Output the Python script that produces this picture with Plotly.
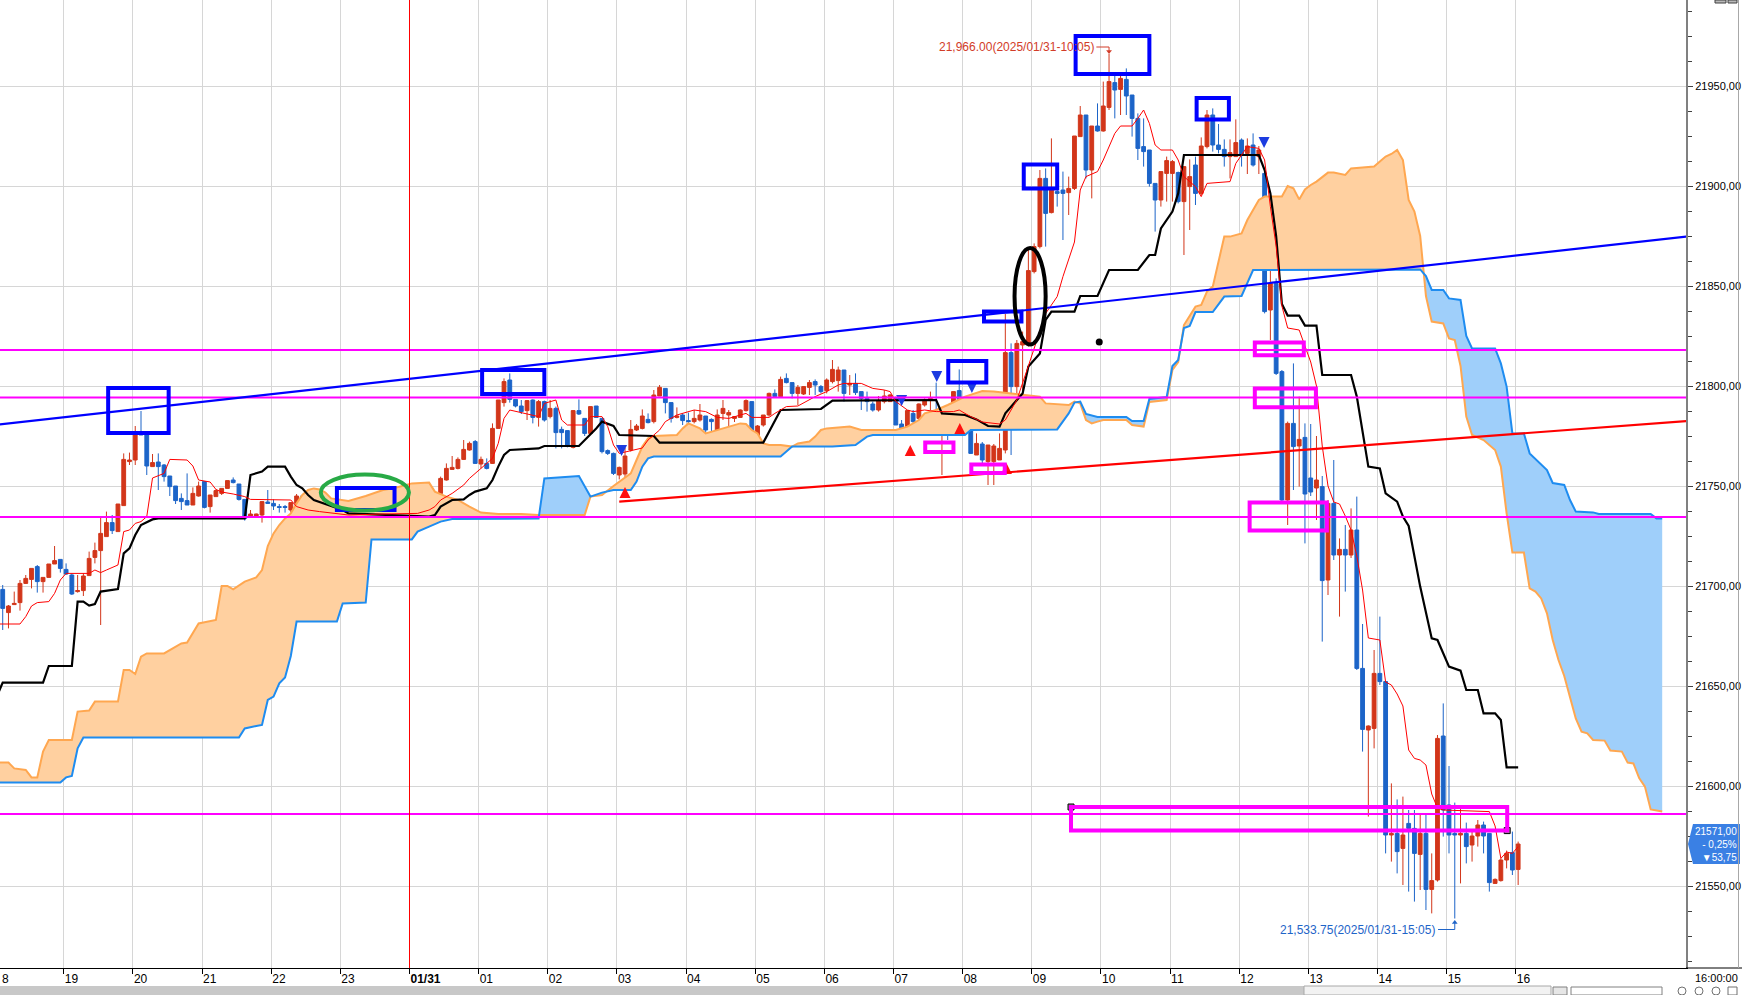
import numpy as np
import pandas as pd
import plotly.graph_objects as go

# 5-minute bars, 2025-01-30 18:05 .. 2025-01-31 16:00
BAR_START = pd.Timestamp("2025-01-30 18:05")

opens = [
    21698.3, 21686.7, 21690.7, 21691.7, 21701.3, 21703.3, 21709.7, 21702.2, 21704.3, 21711,
    21713.3, 21708.3, 21705.5, 21697.2, 21697.7, 21705.2, 21714.3, 21717.7, 21724.7, 21731.7,
    21727.2, 21740.2, 21762.2, 21763, 21776.3, 21775.5, 21759.7, 21762, 21760.5, 21755,
    21750, 21743.8, 21742.7, 21740.5, 21745, 21752.2, 21739.7, 21744.7, 21746.3, 21748.8,
    21753, 21751, 21743.3, 21735, 21735, 21735.5, 21742, 21741.3, 21739.7, 21739.7,
    21738, 21741.3, 21745, 21741.3, 21736.3, 21731.8, 21732.2, 21728.3, 21728.3, 21723,
    21730, 21739.3, 21739.7, 21740, 21739.7, 21741.3, 21739.7, 21735.5, 21733, 21737.2,
    21738, 21736.7, 21735, 21740, 21745, 21743.3, 21746.3, 21753, 21758.3, 21758.8,
    21763.3, 21768, 21772.2, 21761, 21761.3, 21761.3, 21778.8, 21791.7, 21803, 21793.3,
    21790, 21787.7, 21793, 21784.3, 21792.2, 21784.7, 21788.8, 21778.3, 21777.7, 21769.3,
    21787.7, 21783.8, 21776.3, 21790, 21783.8, 21767.7, 21766.3, 21755.5, 21756, 21768,
    21778, 21778.8, 21783.3, 21782.2, 21795, 21798.8, 21791.7, 21784.3, 21785.5, 21782.7,
    21782.2, 21783, 21785, 21783.3, 21778, 21786.3, 21785.5, 21783.8, 21784.3, 21787.7,
    21792.2, 21773, 21780.5, 21785.5, 21796.3, 21794.7, 21803.8, 21801.7, 21796.3, 21796,
    21799.3, 21802.2, 21799.7, 21797.7, 21802.2, 21802.7, 21808, 21800.5, 21801.3, 21797.2,
    21793.8, 21791, 21788, 21792.2, 21792.2, 21793.8, 21781, 21778.3, 21786.3, 21783.8,
    21790.5, 21793, 21787.2, 21777.2, 21785, 21777.2, 21797.7, 21788.8, 21790.5, 21765.5,
    21771, 21762.2, 21762.2, 21763, 21768, 21816.7, 21799.7, 21820.5, 21821.3, 21857.2,
    21869.7, 21903.8, 21886.7, 21897.2, 21898, 21896.7, 21898.8, 21924.7, 21935.5, 21908,
    21930, 21927.5, 21939.3, 21951.7, 21948.3, 21953.3, 21945.5, 21933.8, 21919.7, 21918,
    21901.3, 21893, 21906.3, 21906.3, 21906.7, 21892.2, 21899.7, 21910.5, 21896.3, 21919.7,
    21935.5, 21920.5, 21918.3, 21914.7, 21914.7, 21923, 21916.3, 21920.5, 21914.7, 21906.3,
    21838, 21851.3, 21807.2, 21743, 21781.3, 21770, 21774.3, 21754, 21749, 21749.7,
    21703, 21741.3, 21715.5, 21718.3, 21715.5, 21728, 21658.8, 21628, 21628.8, 21656.3,
    21652.2, 21575.5, 21576.3, 21568.8, 21581.3, 21578.8, 21565.8, 21576.3, 21548.3, 21553,
    21625, 21590.5, 21576.3, 21575.5, 21576.3, 21570.5, 21575, 21580.5, 21576.3, 21551.3,
    21552.7, 21563, 21566.7, 21558.3,
]
highs = [
    21700.5, 21690.5, 21697.2, 21703, 21705.5, 21708.8, 21710.5, 21704.3, 21711, 21720,
    21713.3, 21711.3, 21706.3, 21705.5, 21706.3, 21717.2, 21721.7, 21734.7, 21737.2, 21735.5,
    21741, 21766.3, 21766.7, 21780, 21787.5, 21775.5, 21766, 21766.3, 21761, 21755,
    21750, 21746.3, 21756.3, 21749.3, 21752.2, 21752.5, 21745.5, 21748.3, 21748.8, 21752.7,
    21754.3, 21751, 21743.3, 21738, 21736.2, 21742.2, 21748, 21743.3, 21741, 21740.5,
    21741.7, 21746, 21745, 21742.2, 21739.7, 21734.7, 21732.2, 21731.3, 21732.2, 21733.8,
    21737.2, 21743, 21742.2, 21741.3, 21744.7, 21741.7, 21739.7, 21738, 21739.7, 21737.7,
    21738.8, 21737.2, 21740, 21745.5, 21747.2, 21747.2, 21754.7, 21761.3, 21765, 21764.3,
    21773, 21772.2, 21773, 21764.7, 21763.8, 21781.3, 21793, 21803.8, 21806.3, 21793.3,
    21793, 21793, 21793.3, 21793, 21792.7, 21793, 21789.7, 21779.7, 21777.7, 21788,
    21793.3, 21783.8, 21789.7, 21790, 21783.8, 21768.3, 21766.7, 21759.7, 21769, 21783,
    21781, 21788.3, 21786.3, 21798, 21800.5, 21798.8, 21791.7, 21789.3, 21786.3, 21786.7,
    21788, 21791, 21785, 21783.8, 21788.3, 21793, 21788, 21785, 21788.3, 21793.3,
    21792.2, 21780.5, 21785.5, 21796.7, 21798.3, 21804.7, 21806.3, 21801.7, 21800.5, 21800,
    21803, 21803.3, 21800.5, 21803.8, 21813, 21809.7, 21808, 21805.5, 21806.3, 21797.2,
    21797.2, 21792.2, 21795, 21798, 21796, 21794.7, 21783, 21788, 21788, 21791.3,
    21793.8, 21797.2, 21801.7, 21785.5, 21786.3, 21797.2, 21808.3, 21792.2, 21790.5, 21776.3,
    21772, 21770.5, 21771, 21776.3, 21836, 21821.3, 21823, 21827.2, 21868, 21871.3,
    21908, 21908.8, 21923.8, 21905.5, 21907.2, 21904.7, 21925, 21940, 21935.5, 21930,
    21941.3, 21952.2, 21966, 21956.3, 21956.3, 21958.8, 21945.5, 21936.3, 21933.8, 21918,
    21901.3, 21907.2, 21914.7, 21913, 21907.2, 21909.7, 21913.3, 21914.7, 21924.3, 21938,
    21938.8, 21931, 21923.3, 21923.3, 21933.3, 21923.8, 21923.8, 21926.3, 21920, 21908,
    21884, 21853.8, 21808, 21782.2, 21811.3, 21794.7, 21781.3, 21781, 21775, 21755,
    21743, 21763, 21723.8, 21730.5, 21738.8, 21744.7, 21681, 21630.3, 21668, 21684.7,
    21652.2, 21601.3, 21593.3, 21594.7, 21588, 21588, 21585.5, 21585.5, 21566.3, 21625.5,
    21641.3, 21610, 21591.7, 21589.7, 21581.7, 21578, 21583, 21582.2, 21576.3, 21553.8,
    21563.8, 21567.7, 21577.2, 21572.2,
]
lows = [
    21678, 21678.8, 21690.5, 21687.7, 21701, 21698.8, 21696.7, 21696.7, 21704.3, 21711,
    21706.7, 21705.5, 21695.5, 21696.7, 21695, 21705.2, 21711.3, 21680.5, 21724.7, 21726,
    21727.2, 21740.2, 21760.5, 21760.5, 21775.5, 21755.5, 21759.7, 21748, 21752.2, 21745,
    21741, 21738, 21740.5, 21740.5, 21744.7, 21738.8, 21736.7, 21744.7, 21745.5, 21748.8,
    21751.3, 21742.7, 21732.7, 21734.7, 21734.7, 21731.7, 21741.3, 21738, 21736.7, 21736.7,
    21736.7, 21736.3, 21740.5, 21734.7, 21729.7, 21728.8, 21725.5, 21726.3, 21722.2, 21722.2,
    21728, 21738.8, 21738.8, 21738.8, 21739.3, 21738.8, 21735.5, 21729.7, 21732.2, 21734.7,
    21734.7, 21735.5, 21731.7, 21738.8, 21743, 21743, 21746.3, 21752.7, 21758.3, 21758.3,
    21763, 21767.7, 21761, 21758.8, 21758.3, 21761, 21778.8, 21789.7, 21791.7, 21789.3,
    21786, 21783, 21781.3, 21779.7, 21782.2, 21783.8, 21768.8, 21768.8, 21769.3, 21768.8,
    21785.5, 21775, 21776, 21784.3, 21766.3, 21765.5, 21755.5, 21753.3, 21754, 21767.2,
    21777.5, 21778.3, 21781.3, 21781.3, 21795, 21786.3, 21781.7, 21783.8, 21780.5, 21781.3,
    21781.3, 21782.2, 21773.8, 21776.3, 21778, 21783, 21778, 21782, 21784, 21787.2,
    21773, 21772.2, 21779.7, 21784.7, 21794.7, 21794.7, 21801.3, 21793.8, 21790.5, 21795.5,
    21795.5, 21795.5, 21796.3, 21796.3, 21801.3, 21797.2, 21792.2, 21795.5, 21795.5, 21788,
    21787.2, 21787.2, 21787.2, 21791.3, 21792, 21780.5, 21776.3, 21776.3, 21781.3, 21779.7,
    21789.7, 21788, 21777.2, 21755.5, 21773, 21776.3, 21790, 21784.7, 21766, 21765.5,
    21761, 21750.5, 21750.5, 21763, 21766.3, 21765.5, 21788.8, 21797.2, 21819.7, 21856.3,
    21868.8, 21869.7, 21886.3, 21889.7, 21873, 21885.5, 21898, 21924.7, 21903.8, 21893.8,
    21927.2, 21927.2, 21938, 21933.8, 21935.5, 21935.5, 21924.7, 21913, 21909.7, 21899.7,
    21877.2, 21889.7, 21892.2, 21892.2, 21891.3, 21865.5, 21878, 21890.5, 21895.5, 21918.8,
    21917.2, 21916.3, 21909.7, 21903.8, 21914.7, 21909.7, 21906, 21909.7, 21906, 21836.3,
    21823, 21805.5, 21742, 21730.5, 21748, 21749.7, 21721.3, 21745, 21733, 21672.2,
    21695.5, 21713, 21684.7, 21697.2, 21714, 21658, 21617.2, 21584.7, 21618.8, 21650.5,
    21566.3, 21562.2, 21556.3, 21550.5, 21547.2, 21542.2, 21548, 21538, 21536.3, 21552.2,
    21574.7, 21566.3, 21533.75, 21551.3, 21561.3, 21562.2, 21569.7, 21566.3, 21547.2, 21551.3,
    21552.2, 21558.8, 21555.5, 21550.5,
]
closes = [
    21688.8, 21690, 21691.3, 21701.3, 21703.8, 21708.8, 21702.2, 21704.3, 21711, 21712.7,
    21708.8, 21706, 21696, 21697.7, 21705, 21713.8, 21717.7, 21726.3, 21731.7, 21727.7,
    21741, 21763.3, 21763, 21776.3, 21775.5, 21760, 21761.7, 21759.7, 21754.7, 21749.7,
    21742.7, 21742.2, 21740.5, 21746.3, 21750, 21739.3, 21745.5, 21747.7, 21748.8, 21752.7,
    21751.7, 21743.3, 21733.8, 21736, 21736, 21742.2, 21741.3, 21740, 21739.3, 21739.3,
    21741.7, 21745, 21740.5, 21735, 21732.2, 21732.7, 21727.2, 21728.8, 21723.8, 21733.8,
    21734.7, 21740, 21740.3, 21739.3, 21741, 21739.3, 21736.3, 21732.2, 21736.3, 21736,
    21735, 21736, 21740, 21744.3, 21743.3, 21746.7, 21753.8, 21758.8, 21759.3, 21763.3,
    21768.3, 21771.3, 21761.3, 21763.3, 21758.8, 21778.8, 21793, 21802.2, 21793.3, 21790,
    21787.2, 21792.7, 21784.3, 21792.2, 21783, 21788.8, 21776.7, 21776.7, 21770, 21787.7,
    21786, 21776.3, 21789.7, 21784.3, 21767.2, 21766.3, 21756.3, 21759.3, 21765, 21778.3,
    21780, 21785, 21781.7, 21795.5, 21799.3, 21791.7, 21783.8, 21785, 21782.7, 21782.2,
    21783.8, 21785.5, 21778, 21782.2, 21785.5, 21788.8, 21786.7, 21784.7, 21788, 21792.7,
    21773, 21780, 21785.5, 21796.3, 21794.7, 21803.3, 21801.7, 21796.3, 21799.3, 21799.7,
    21801.7, 21800.5, 21797.2, 21803, 21808.3, 21808, 21796.3, 21801.3, 21796.7, 21793.8,
    21792.2, 21788, 21792.7, 21795, 21795.5, 21780.5, 21778, 21787.7, 21782.2, 21791,
    21793, 21793.8, 21778, 21785.5, 21778, 21797.2, 21790.5, 21789.7, 21766.3, 21771.3,
    21763, 21770.5, 21770, 21768.8, 21816.7, 21799.7, 21821.3, 21822.2, 21857.7, 21869.7,
    21903.8, 21886.3, 21898, 21896.3, 21896.3, 21898.8, 21925, 21935.5, 21908, 21930,
    21927.5, 21940, 21952.2, 21948, 21953.8, 21945, 21933.8, 21918.8, 21917.2, 21901.3,
    21893, 21907.2, 21912.7, 21912.2, 21892.2, 21909.7, 21904.7, 21896.3, 21920, 21935.5,
    21920.5, 21918.3, 21914.7, 21916.7, 21921.7, 21915.5, 21920, 21910.5, 21918, 21837.2,
    21851.3, 21806.3, 21743, 21781.3, 21769.7, 21773.3, 21746, 21747, 21753, 21702.7,
    21741.3, 21715.5, 21718.3, 21715.5, 21728, 21658.8, 21628.3, 21630, 21656.3, 21652.2,
    21575.5, 21576.3, 21567.2, 21575.5, 21578.8, 21566.3, 21576.3, 21548.3, 21552.7, 21623.8,
    21588, 21575.5, 21575.5, 21576.3, 21569.7, 21575, 21580.5, 21575, 21551.7, 21553.3,
    21563, 21566.3, 21558, 21571,
]

# Ichimoku lines as (bar index, price) vertices
tenkan_pts = [
    (-1, 21681), (3, 21681), (4, 21684.7), (5, 21690), (6, 21691.7), (8, 21692.2), (9, 21696.3),
    (10, 21703), (11, 21706.3), (15, 21706.3), (16, 21708), (17, 21706.7), (18, 21708), (20, 21710.5),
    (21, 21727.2), (22, 21728), (23, 21731.3), (24, 21732.2), (25, 21734.7), (26, 21754), (28, 21756.3),
    (29, 21763.3), (32, 21763), (33, 21760), (34, 21753), (36, 21752), (37, 21748.3), (38, 21747),
    (40, 21746), (42, 21744.7), (43, 21743.3), (50, 21743), (51, 21739.7), (53, 21738), (55, 21737.2),
    (58, 21736.3), (60, 21735.5), (66, 21736), (72, 21736.3), (74, 21738), (75, 21739.7), (76, 21743),
    (78, 21746.3), (80, 21750.5), (81, 21753.8), (83, 21758.8), (85, 21763.8), (86, 21771.3),
    (87, 21783.8), (88, 21788), (93, 21784.7), (94, 21791.3), (96, 21793), (97, 21783), (98, 21780.5),
    (101, 21780.5), (102, 21784.7), (104, 21784.7), (105, 21779.7), (106, 21770.5), (107, 21766.3),
    (111, 21769), (112, 21773), (114, 21778), (115, 21782.2), (117, 21785.5), (119, 21787.2),
    (120, 21788), (122, 21787.2), (124, 21784.3), (126, 21783.8), (128, 21785.5), (129, 21786.3),
    (130, 21784.3), (133, 21784.3), (134, 21786.3), (136, 21789.7), (138, 21790), (140, 21793),
    (141, 21794.7), (143, 21797.2), (145, 21800.5), (146, 21801.3), (149, 21801.3), (151, 21798.8),
    (153, 21798), (154, 21797.2), (155, 21792.2), (157, 21788), (158, 21787.2), (160, 21788),
    (162, 21787.2), (165, 21787.2), (166, 21788), (167, 21786.3), (168, 21784.7), (170, 21782),
    (173, 21781), (174, 21783), (176, 21793), (178, 21810), (180, 21828), (181, 21836.3),
    (183, 21844.7), (184, 21854.7), (186, 21872), (187, 21898), (188, 21904.7), (190, 21907.2),
    (191, 21913), (193, 21926.3), (194, 21930), (196, 21930), (197, 21933.8), (198, 21938),
    (199, 21931.3), (200, 21920.5), (201, 21918), (203, 21918), (204, 21913), (205, 21904.7),
    (207, 21899.7), (208, 21894.7), (209, 21901.3), (213, 21902.2), (214, 21911.3), (216, 21919.7),
    (218, 21918.8), (219, 21913), (220, 21889.7), (221, 21870), (222, 21840), (223, 21829),
    (225, 21828), (226, 21820), (227, 21812), (228, 21800), (229, 21770), (230, 21750), (231, 21742),
    (232, 21741), (233, 21735), (234, 21728), (235, 21715), (236, 21698), (237, 21674), (239, 21673),
    (240, 21652), (241, 21650.5), (242, 21646), (243, 21640), (244, 21618), (245, 21613.8),
    (246, 21613), (247, 21610.5), (248, 21596), (249, 21589), (250, 21588), (258, 21587.2),
    (259, 21580), (260, 21563.8), (261, 21567), (262, 21566.3), (263, 21569.7),
]
kijun_pts = [
    (-1, 21645), (0, 21651.7), (7, 21651.7), (8, 21660), (12, 21660), (13, 21692.2), (14, 21692.2),
    (15, 21690.2), (16, 21691), (17, 21697.2), (20, 21698.5), (21, 21716.3), (22, 21718.8),
    (23, 21725.5), (24, 21730.5), (26, 21733.3), (27, 21733.8), (42, 21733.8), (43, 21755.5),
    (44, 21756.3), (45, 21757.2), (46, 21759.7), (49, 21759.7), (50, 21754.7), (51, 21750.5),
    (52, 21748.8), (53, 21745.5), (54, 21743), (56, 21741), (59, 21738), (60, 21736.3), (67, 21735.5),
    (71, 21734.7), (74, 21734.7), (75, 21735.5), (76, 21739.7), (78, 21743), (80, 21743.3),
    (81, 21745.5), (82, 21747.2), (84, 21748.8), (85, 21753), (86, 21759.7), (87, 21765.5),
    (88, 21768), (93, 21768.8), (94, 21770), (100, 21770), (103, 21778.8), (104, 21782.2),
    (106, 21780), (107, 21775.5), (113, 21775), (114, 21771.7), (132, 21771.7), (135, 21788),
    (142, 21788.5), (144, 21792.7), (162, 21793), (163, 21786.3), (167, 21785.5), (169, 21783.3),
    (171, 21780), (173, 21779.7), (174, 21786.3), (177, 21796.3), (178, 21809.7), (180, 21816.3),
    (181, 21833), (182, 21837.2), (186, 21837.2), (187, 21845), (190, 21845), (192, 21858),
    (197, 21858), (199, 21865.5), (200, 21865.5), (201, 21878.8), (203, 21887.2), (204, 21896.3),
    (205, 21915.5), (218, 21915.5), (219, 21908), (220, 21896.3), (221, 21875), (222, 21841),
    (223, 21835.2), (225, 21835.2), (226, 21830.2), (228, 21830.2), (229, 21805.5), (234, 21805.5),
    (235, 21794.7), (237, 21759.7), (239, 21758.8), (240, 21746.3), (242, 21742.2), (243, 21734.7),
    (244, 21730), (246, 21699.7), (248, 21673.8), (249, 21673), (251, 21659.7), (253, 21657.7),
    (254, 21648), (256, 21648), (257, 21636.3), (259, 21636.3), (260, 21633), (261, 21609.3),
    (263, 21609.3),
]
span_a_pts = [
    (-1, 21611.7), (1, 21611.7), (2, 21608.8), (4, 21608), (5, 21604.3), (6, 21604.3), (7, 21617.2),
    (8, 21623), (12, 21623), (13, 21637.2), (15, 21637.7), (16, 21642.2), (20, 21642.2), (21, 21658),
    (22, 21658), (23, 21656), (24, 21664.7), (25, 21666.3), (28, 21666.3), (31, 21671.3),
    (32, 21671.7), (34, 21681.3), (37, 21683), (38, 21700), (39, 21700), (40, 21698.3), (42, 21702.2),
    (44, 21704.3), (45, 21708), (46, 21720), (47, 21726.3), (48, 21730.5), (49, 21733.8),
    (50, 21736.3), (51, 21741.3), (52, 21745.5), (53, 21748), (54, 21748.8), (55, 21748.3),
    (56, 21746.7), (57, 21743.8), (60, 21742.5), (63, 21745), (66, 21748), (68, 21749), (71, 21751.3),
    (74, 21751.7), (75, 21747.2), (77, 21744.7), (79, 21743), (81, 21739.7), (83, 21736.7),
    (86, 21736), (90, 21736), (93, 21735.5), (101, 21735.5), (102, 21744.7), (104, 21745.5),
    (106, 21750), (107, 21752.2), (109, 21756.3), (110, 21763), (111, 21769.7), (112, 21773.8),
    (113, 21775), (117, 21775.5), (118, 21778.8), (119, 21781.3), (121, 21778.8), (122, 21776.3),
    (124, 21778), (126, 21779.7), (128, 21781.3), (129, 21781), (130, 21778), (131, 21776.3),
    (132, 21771.3), (133, 21770.5), (135, 21770.5), (137, 21769.7), (138, 21771.3), (140, 21772.2),
    (141, 21774.7), (142, 21778), (143, 21778.8), (147, 21779.7), (148, 21778.8), (149, 21778),
    (155, 21778), (157, 21779.7), (159, 21783), (160, 21786.3), (162, 21788), (164, 21790.5),
    (167, 21794.7), (170, 21797.5), (172, 21797.2), (177, 21795.5), (180, 21794.7), (181, 21791.3),
    (185, 21790.5), (186, 21792.2), (187, 21791.3), (188, 21783), (189, 21781.3), (190, 21782.2),
    (191, 21783), (195, 21783), (196, 21780.5), (198, 21779.7), (199, 21792), (202, 21793),
    (203, 21808), (204, 21812), (205, 21830.5), (207, 21839.7), (208, 21840.5), (209, 21847.2),
    (210, 21849.7), (212, 21874.7), (213, 21874.7), (215, 21876.3), (216, 21883), (218, 21893),
    (219, 21894.7), (222, 21894.7), (223, 21900), (224, 21898.8), (225, 21893.3), (226, 21898.3),
    (227, 21900.5), (228, 21902.2), (230, 21906.7), (231, 21906.7), (233, 21905.5), (234, 21908.8),
    (238, 21909.7), (239, 21912.2), (240, 21914.7), (241, 21916), (242, 21918), (243, 21913),
    (244, 21893), (245, 21887.2), (246, 21875), (247, 21845), (248, 21832.2), (250, 21831.3),
    (251, 21823.8), (252, 21823), (253, 21810), (254, 21784.7), (255, 21775.5), (257, 21773),
    (259, 21768), (260, 21759.7), (261, 21736.3), (262, 21716.7), (264, 21716.7), (265, 21698.8),
    (266, 21697.2), (267, 21693.8), (268, 21686.3), (269, 21673), (270, 21663), (271, 21655),
    (272, 21645), (273, 21633.8), (274, 21627.2), (275, 21626.3), (276, 21623), (278, 21622.7),
    (279, 21617.7), (281, 21617.2), (282, 21611.7), (283, 21611.3), (284, 21604), (285, 21599.7),
    (286, 21588.3), (288, 21587.2),
]
span_b_pts = [
    (-1, 21601.7), (10, 21601.7), (11, 21604.3), (12, 21605), (13, 21618.8), (14, 21624.2),
    (41, 21624.2), (42, 21628.8), (44, 21630), (45, 21630.5), (46, 21643), (47, 21644.7),
    (48, 21651.3), (49, 21654.3), (50, 21665), (51, 21682.2), (58, 21682.2), (59, 21691.3),
    (63, 21691.7), (64, 21723.3), (71, 21723.3), (72, 21727.2), (74, 21729.7), (76, 21732.2),
    (78, 21733.5), (93, 21733.7), (94, 21753.8), (100, 21755), (102, 21744.7), (104, 21746.7),
    (106, 21748), (109, 21748), (110, 21752.2), (111, 21759.7), (112, 21763.8), (113, 21764.7),
    (135, 21764.7), (136, 21767.2), (137, 21769.7), (144, 21769.7), (148, 21770.5), (150, 21774.7),
    (151, 21775.5), (167, 21775.5), (168, 21778), (183, 21778.3), (185, 21786.3), (186, 21791.7),
    (187, 21792.2), (188, 21786), (190, 21784.5), (195, 21784.5), (196, 21782.5), (198, 21782.5),
    (199, 21793.5), (202, 21794.5), (203, 21810), (204, 21813), (205, 21829), (206, 21830),
    (207, 21837), (210, 21837), (212, 21844.7), (215, 21845), (216, 21851.3), (217, 21858),
    (246, 21858.3), (247, 21855), (248, 21848), (250, 21848), (251, 21843.8), (253, 21843),
    (254, 21825), (255, 21818.8), (259, 21818.8), (260, 21811.3), (261, 21799.7), (262, 21776.3),
    (264, 21776.3), (265, 21766.3), (268, 21758), (269, 21751.5), (271, 21750.5), (272, 21743),
    (273, 21737.2), (276, 21736.8), (277, 21736), (286, 21736), (287, 21733.8), (288, 21733.8),
]

# drawings on the chart (bar index / price)
h_levels = [21818, 21794.25, 21734.5, 21586]
blue_trend = [(-0.5, 21780.8), (292.2, 21874.7)]
red_trend = [(107.0, 21742.2), (292.2, 21782.5)]
blue_boxes = [  # (bar from, bar to, price low, price high)
    (18.3, 28.8, 21776.5, 21799), (58.0, 68.0, 21738, 21749), (83.2, 94.0, 21796, 21808),
    (164.1, 170.7, 21801.8, 21812.5), (170.3, 176.8, 21832.3, 21837.3),
    (177.2, 183.0, 21898.7, 21910.7), (186.2, 199.0, 21956, 21975), (207.2, 212.8, 21933.2, 21944),
]
magenta_boxes = [
    (160.1, 165.0, 21767, 21771.7), (168.1, 173.9, 21756.5, 21760.7), (217.3, 225.8, 21815.4, 21821.7),
    (217.3, 227.9, 21789.4, 21798.7), (216.4, 229.8, 21727.7, 21741.7), (185.4, 261.1, 21577.7, 21589.5),
]
green_oval = (55.2, 70.5, 21737.7, 21755.7)
black_oval = (175.6, 181.0, 21820.7, 21869)
signal_down = [(107.4, 21765), (156, 21790), (162.1, 21802), (168.2, 21796.5), (218.9, 21919)]
signal_up = [(108, 21749.5), (157.5, 21770.5), (166.1, 21781.5), (174.2, 21761.5)]
black_dot = (190.3, 21822)
box_handles = [(185.4, 21589.5), (261.1, 21577.7)]
high_mark = (192, 21966.0, "21,966.00(2025/01/31-10:05)")
low_mark = (252, 21533.75, "21,533.75(2025/01/31-15:05)")
last_price = (21571.0, "21571,00", "- 0,25%", "▼53,75")

UP = "#D2361A"
DOWN = "#1C64C8"
FONT = "Liberation Sans, Arial, sans-serif"
PLOT_W, PLOT_H = 1686, 968


def bt(b):
    # candle centres sit 2 minutes after the bar start
    return BAR_START + pd.Timedelta(minutes=2 + 5 * b)


def px(x):
    return x / PLOT_W


def py(y):
    return (PLOT_H - y) / PLOT_H


def unzip(pts):
    return [p[0] for p in pts], [p[1] for p in pts]


bar_times = [bt(i) for i in range(len(opens))]

fig = go.Figure()

# cloud fill: orange where span A is above span B, blue otherwise
ab, av = unzip(span_a_pts)
bb, bv = unzip(span_b_pts)
grid = np.arange(-1, 289)
a = np.interp(grid, ab, av)
b = np.interp(grid, bb, bv)
segs, cur = [], None
for i in range(len(grid) - 1):
    x0, x1, a0, a1, b0, b1 = grid[i], grid[i + 1], a[i], a[i + 1], b[i], b[i + 1]
    d0, d1 = a0 - b0, a1 - b1
    if d0 * d1 < 0:
        t = d0 / (d0 - d1)
        xc, yc = x0 + t * (x1 - x0), a0 + t * (a1 - a0)
        pieces = [(x0, a0, b0, xc, yc, yc, d0 > 0), (xc, yc, yc, x1, a1, b1, d1 > 0)]
    else:
        pieces = [(x0, a0, b0, x1, a1, b1, d0 + d1 >= 0)]
    for xs, as_, bs, xe, ae, be, up in pieces:
        if cur is None or cur["up"] != up:
            if cur:
                segs.append(cur)
            cur = {"up": up, "x": [xs], "a": [as_], "b": [bs]}
        cur["x"].append(xe)
        cur["a"].append(ae)
        cur["b"].append(be)
segs.append(cur)
for s in segs:
    xs = [bt(v) for v in s["x"] + s["x"][::-1]]
    ys = s["a"] + s["b"][::-1]
    fig.add_trace(go.Scatter(
        x=xs, y=ys, fill="toself", mode="lines", line=dict(width=0),
        fillcolor="#FFD0A0" if s["up"] else "#9FCFFA", hoverinfo="skip"))

for pts, color, width in [(span_a_pts, "#FFA750", 2), (span_b_pts, "#1E8CF0", 2),
                          (kijun_pts, "#000000", 2.2), (tenkan_pts, "#FF0000", 1)]:
    xb, yv = unzip(pts)
    fig.add_trace(go.Scatter(x=[bt(v) for v in xb], y=yv, mode="lines",
                             line=dict(color=color, width=width), hoverinfo="skip"))

fig.add_trace(go.Candlestick(
    x=bar_times, open=opens, high=highs, low=lows, close=closes,
    increasing=dict(line=dict(color=UP, width=1), fillcolor=UP),
    decreasing=dict(line=dict(color=DOWN, width=1), fillcolor=DOWN),
    whiskerwidth=0, hoverinfo="skip"))

# signal arrows, dot and box handles
xb, yv = unzip(signal_down)
fig.add_trace(go.Scatter(x=[bt(v) for v in xb], y=yv, mode="markers",
                         marker=dict(symbol="arrow-down", size=11, color="#1C3CE0"), hoverinfo="skip"))
xb, yv = unzip(signal_up)
fig.add_trace(go.Scatter(x=[bt(v) for v in xb], y=yv, mode="markers",
                         marker=dict(symbol="arrow-up", size=11, color="#FF1010"), hoverinfo="skip"))
fig.add_trace(go.Scatter(x=[bt(black_dot[0])], y=[black_dot[1]], mode="markers",
                         marker=dict(size=7, color="black"), hoverinfo="skip"))
xb, yv = unzip(box_handles)
fig.add_trace(go.Scatter(x=[bt(v) for v in xb], y=yv, mode="markers",
                         marker=dict(symbol="square", size=6, color="#8C8C8C", line=dict(color="black", width=1)),
                         hoverinfo="skip"))

shapes = []
for lvl in h_levels:
    shapes.append(dict(type="line", xref="paper", x0=0, x1=1, y0=lvl, y1=lvl,
                       line=dict(color="#FF00FF", width=2)))
for (b0, p0), (b1, p1), col in [(blue_trend[0], blue_trend[1], "#0000FF"),
                                (red_trend[0], red_trend[1], "#FF0000")]:
    shapes.append(dict(type="line", x0=bt(b0), x1=bt(b1), y0=p0, y1=p1, line=dict(color=col, width=2.2)))
shapes.append(dict(type="line", x0=pd.Timestamp("2025-01-31 00:00"), x1=pd.Timestamp("2025-01-31 00:00"),
                   yref="paper", y0=0, y1=1, line=dict(color="#FF0000", width=1)))
for b0, b1, p0, p1 in blue_boxes:
    shapes.append(dict(type="rect", x0=bt(b0), x1=bt(b1), y0=p0, y1=p1, line=dict(color="#0000FF", width=4)))
for b0, b1, p0, p1 in magenta_boxes:
    shapes.append(dict(type="rect", x0=bt(b0), x1=bt(b1), y0=p0, y1=p1, line=dict(color="#FF00FF", width=4)))
for (b0, b1, p0, p1), col in [(green_oval, "#28AA46"), (black_oval, "#000000")]:
    shapes.append(dict(type="circle", x0=bt(b0), x1=bt(b1), y0=p0, y1=p1, line=dict(color=col, width=4)))

# high / low labels with their little connectors
hb, hp, htxt = high_mark
lb, lp, ltxt = low_mark
shapes += [
    dict(type="line", x0=bt(hb - 2.2), x1=bt(hb), y0=hp + 3.5, y1=hp + 3.5, line=dict(color="#D23C28", width=1)),
    dict(type="line", x0=bt(hb), x1=bt(hb), y0=hp + 3.5, y1=hp + 1.2, line=dict(color="#D23C28", width=1)),
    dict(type="line", x0=bt(lb - 2.9), x1=bt(lb), y0=lp - 5.5, y1=lp - 5.5, line=dict(color="#1E64C8", width=1)),
    dict(type="line", x0=bt(lb), x1=bt(lb), y0=lp - 5.5, y1=lp - 2.2, line=dict(color="#1E64C8", width=1)),
]
fig.add_trace(go.Scatter(x=[bt(hb), bt(lb)], y=[hp + 1.3, lp - 2.0], mode="markers",
                         marker=dict(symbol=["triangle-down", "triangle-up"], size=5,
                                     color=["#D23C28", "#1E64C8"]), hoverinfo="skip"))

# price tag on the right axis
lp_val, t1, t2, t3 = last_price
shapes.append(dict(type="path", xref="paper", yref="y",
                   path=f"M {px(1688)},{lp_val} L {px(1693)},{lp_val + 10} L {px(1740)},{lp_val + 10} "
                        f"L {px(1740)},{lp_val - 10} L {px(1693)},{lp_val - 10} Z",
                   fillcolor="#3A80E4", line=dict(width=0)))

# window chrome below and right of the plot
shapes += [
    dict(type="line", xref="paper", yref="paper", x0=1, x1=px(1742), y0=0, y1=0, line=dict(color="black", width=1)),
    dict(type="line", xref="paper", yref="paper", x0=px(1738.5), x1=px(1738.5), y0=0, y1=1,
         line=dict(color="#A8A8A8", width=1)),
    dict(type="rect", xref="paper", yref="paper", x0=px(0), x1=px(1304), y0=py(995), y1=py(986),
         fillcolor="#C8C8C8", line=dict(width=0)),
    dict(type="rect", xref="paper", yref="paper", x0=px(1304), x1=px(1551), y0=py(995), y1=py(986),
         fillcolor="#F2F2F2", line=dict(color="#A8A8A8", width=1)),
    dict(type="rect", xref="paper", yref="paper", x0=px(1553), x1=px(1567), y0=py(995), y1=py(987),
         fillcolor="#E6E6E6", line=dict(color="#808080", width=1)),
    dict(type="rect", xref="paper", yref="paper", x0=px(1571), x1=px(1662), y0=py(995), y1=py(987),
         fillcolor="#FFFFFF", line=dict(color="#808080", width=1)),
    dict(type="rect", xref="paper", yref="paper", x0=px(1715), x1=px(1726), y0=py(3), y1=py(0),
         fillcolor="#B8B8B8", line=dict(color="#404040", width=1)),
    dict(type="rect", xref="paper", yref="paper", x0=px(1728), x1=px(1737), y0=py(3), y1=py(0),
         fillcolor="#B8B8B8", line=dict(color="#404040", width=1)),
]
for cx in [1678, 1695, 1712]:
    shapes.append(dict(type="circle", xref="paper", yref="paper", x0=px(cx), x1=px(cx + 8),
                       y0=py(995), y1=py(987), line=dict(color="#707070", width=1)))
shapes.append(dict(type="rect", xref="paper", yref="paper", x0=px(1728), x1=px(1737), y0=py(995), y1=py(987),
                   line=dict(color="#707070", width=1)))

annotations = [
    dict(x=bt(hb - 2.3), y=hp + 3.5, text=htxt, showarrow=False, xanchor="right", yanchor="middle",
         font=dict(family=FONT, size=12, color="#D23C28")),
    dict(x=bt(lb - 3.0), y=lp - 5.5, text=ltxt, showarrow=False, xanchor="right", yanchor="middle",
         font=dict(family=FONT, size=12, color="#1E64C8")),
    dict(xref="paper", x=px(1739), y=lp_val, text=f"{t1}<br>{t2}<br>{t3}", showarrow=False,
         xanchor="right", yanchor="middle", align="right", font=dict(family=FONT, size=10, color="white")),
    dict(xref="paper", yref="paper", x=px(0), y=py(970), text="8", showarrow=False,
         xanchor="left", yanchor="top", font=dict(family=FONT, size=12, color="black")),
    dict(xref="paper", yref="paper", x=px(1693), y=py(970), text="16:00:00", showarrow=False,
         xanchor="left", yanchor="top", font=dict(family=FONT, size=11, color="black")),
]

hour_ticks = pd.date_range("2025-01-30 19:00", "2025-01-31 16:00", freq="h")
hour_text = ["<b>01/31</b>" if t.hour == 0 else f"{t.hour:02d}" for t in hour_ticks]

fig.update_layout(
    width=1742, height=995,
    margin=dict(l=0, r=56, t=0, b=27, autoexpand=False),
    paper_bgcolor="white", plot_bgcolor="white",
    showlegend=False, separators=",.",
    boxgap=0.34, boxgroupgap=0,
    font=dict(family=FONT, size=12, color="black"),
    shapes=shapes, annotations=annotations,
    xaxis=dict(
        type="date", range=[bt(-0.47), bt(292.13)],
        tickmode="array", tickvals=list(hour_ticks), ticktext=hour_text,
        ticklabelposition="outside right", ticks="outside", ticklen=5, tickcolor="black",
        showgrid=True, gridcolor="#D6D6D6", gridwidth=1,
        showline=True, linecolor="black", linewidth=1, zeroline=False, automargin=False,
        rangeslider=dict(visible=False), tickfont=dict(size=12),
    ),
    yaxis=dict(
        side="right", range=[21509, 21993], tick0=0, dtick=50, tickformat=".2f",
        ticks="outside", ticklen=5, tickcolor="#404040",
        minor=dict(dtick=12.5, ticks="outside", ticklen=4, tickcolor="#404040", showgrid=False),
        showgrid=True, gridcolor="#D6D6D6", gridwidth=1,
        showline=True, linecolor="#808080", linewidth=2, zeroline=False, automargin=False,
        tickfont=dict(size=11),
    ),
)

# the page is photographed at exactly the figure size, so drop the default body margin
fig.write_html("out.html", config={"displayModeBar": False},
               post_script="document.body.style.margin='0';")
